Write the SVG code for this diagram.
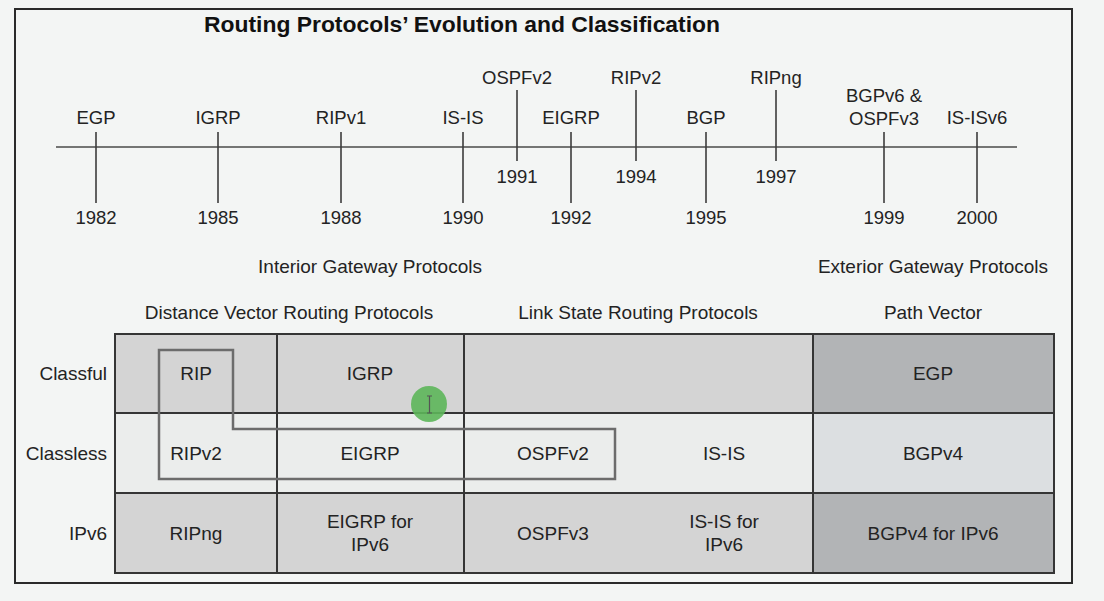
<svg xmlns="http://www.w3.org/2000/svg" width="1104" height="601" viewBox="0 0 1104 601">
  <style>
    text { font-family: "Liberation Sans", Arial, Helvetica, sans-serif; fill: #232323; }
    .title { font-size: 22px; font-weight: bold; fill: #111; }
    .tl { font-size: 18.5px; text-anchor: middle; }
    .hdr { font-size: 19px; text-anchor: middle; }
    .row { font-size: 19px; text-anchor: end; }
    .cell { font-size: 19px; text-anchor: middle; }
    .tick { stroke: #3c3c3c; stroke-width: 1.6; fill: none; }
    .axis { stroke: #4a4a4a; stroke-width: 1.6; fill: none; }
    .grid { stroke: #353535; stroke-width: 2; fill: none; }
    .c-mid { fill: #d4d4d4; }
    .c-light { fill: #ebedec; }
    .c-dark { fill: #b2b4b6; }
    .c-blue { fill: #dcdfe1; }
  </style>
  <rect x="0" y="0" width="1104" height="601" fill="#f3f5f4"/>
  <rect id="frame" x="15" y="9" width="1057" height="574" fill="#f3f5f4" stroke="#2a2a2a" stroke-width="2"/>

  <g id="title">
    <text class="title" x="204" y="32" textLength="516" lengthAdjust="spacingAndGlyphs">Routing Protocols’ Evolution and Classification</text>
  </g>

  <!-- connectors: timeline axis and tick lines -->
  <g id="connectors">
    <line class="axis" x1="56" y1="147" x2="1017" y2="147"/>
    <line class="tick" x1="96" y1="132" x2="96" y2="203"/>
    <line class="tick" x1="218" y1="132" x2="218" y2="203"/>
    <line class="tick" x1="341" y1="132" x2="341" y2="203"/>
    <line class="tick" x1="463" y1="132" x2="463" y2="203"/>
    <line class="tick" x1="517" y1="90" x2="517" y2="161"/>
    <line class="tick" x1="571" y1="132" x2="571" y2="203"/>
    <line class="tick" x1="636" y1="90" x2="636" y2="161"/>
    <line class="tick" x1="706" y1="132" x2="706" y2="203"/>
    <line class="tick" x1="776" y1="90" x2="776" y2="161"/>
    <line class="tick" x1="884" y1="132" x2="884" y2="203"/>
    <line class="tick" x1="977" y1="132" x2="977" y2="203"/>
  </g>

  <g id="ev-egp"><text class="tl" x="96" y="124">EGP</text><text class="tl" x="96" y="224">1982</text></g>
  <g id="ev-igrp"><text class="tl" x="218" y="124">IGRP</text><text class="tl" x="218" y="224">1985</text></g>
  <g id="ev-ripv1"><text class="tl" x="341" y="124">RIPv1</text><text class="tl" x="341" y="224">1988</text></g>
  <g id="ev-isis"><text class="tl" x="463" y="124">IS-IS</text><text class="tl" x="463" y="224">1990</text></g>
  <g id="ev-ospfv2"><text class="tl" x="517" y="84">OSPFv2</text><text class="tl" x="517" y="183">1991</text></g>
  <g id="ev-eigrp"><text class="tl" x="571" y="124">EIGRP</text><text class="tl" x="571" y="224">1992</text></g>
  <g id="ev-ripv2"><text class="tl" x="636" y="84">RIPv2</text><text class="tl" x="636" y="183">1994</text></g>
  <g id="ev-bgp"><text class="tl" x="706" y="124">BGP</text><text class="tl" x="706" y="224">1995</text></g>
  <g id="ev-ripng"><text class="tl" x="776" y="84">RIPng</text><text class="tl" x="776" y="183">1997</text></g>
  <g id="ev-bgpv6"><text class="tl" x="884" y="102">BGPv6 &amp;</text><text class="tl" x="884" y="125">OSPFv3</text><text class="tl" x="884" y="224">1999</text></g>
  <g id="ev-isisv6"><text class="tl" x="977" y="124">IS-ISv6</text><text class="tl" x="977" y="224">2000</text></g>

  <g id="headers">
    <text class="hdr" x="370" y="273">Interior Gateway Protocols</text>
    <text class="hdr" x="933" y="273">Exterior Gateway Protocols</text>
    <text class="hdr" x="289" y="319">Distance Vector Routing Protocols</text>
    <text class="hdr" x="638" y="319">Link State Routing Protocols</text>
    <text class="hdr" x="933" y="319">Path Vector</text>
  </g>

  <g id="row-labels">
    <text class="row" x="107" y="380">Classful</text>
    <text class="row" x="107" y="460">Classless</text>
    <text class="row" x="107" y="540">IPv6</text>
  </g>

  <!-- table cells -->
  <g id="cell-rip"><rect class="c-mid" x="115" y="334" width="162" height="79"/><text class="cell" x="196" y="380">RIP</text></g>
  <g id="cell-igrp"><rect class="c-mid" x="277" y="334" width="187" height="79"/><text class="cell" x="370" y="380">IGRP</text></g>
  <g id="cell-ls-classful"><rect class="c-mid" x="464" y="334" width="349" height="79"/></g>
  <g id="cell-egp"><rect class="c-dark" x="813" y="334" width="241" height="79"/><text class="cell" x="933" y="380">EGP</text></g>

  <g id="cell-ripv2"><rect class="c-light" x="115" y="413" width="162" height="80"/><text class="cell" x="196" y="460">RIPv2</text></g>
  <g id="cell-eigrp"><rect class="c-light" x="277" y="413" width="187" height="80"/><text class="cell" x="370" y="460">EIGRP</text></g>
  <g id="cell-ls-classless"><rect class="c-light" x="464" y="413" width="349" height="80"/><text class="cell" x="553" y="460">OSPFv2</text><text class="cell" x="724" y="460">IS-IS</text></g>
  <g id="cell-bgpv4"><rect class="c-blue" x="813" y="413" width="241" height="80"/><text class="cell" x="933" y="460">BGPv4</text></g>

  <g id="cell-ripng"><rect class="c-mid" x="115" y="493" width="162" height="80"/><text class="cell" x="196" y="540">RIPng</text></g>
  <g id="cell-eigrp6"><rect class="c-mid" x="277" y="493" width="187" height="80"/><text class="cell" x="370" y="528">EIGRP for</text><text class="cell" x="370" y="551">IPv6</text></g>
  <g id="cell-ls-ipv6"><rect class="c-mid" x="464" y="493" width="349" height="80"/><text class="cell" x="553" y="540">OSPFv3</text><text class="cell" x="724" y="528">IS-IS for</text><text class="cell" x="724" y="551">IPv6</text></g>
  <g id="cell-bgp6"><rect class="c-dark" x="813" y="493" width="241" height="80"/><text class="cell" x="933" y="540">BGPv4 for IPv6</text></g>

  <g id="grid">
    <rect class="grid" x="115" y="334" width="939" height="239"/>
    <line class="grid" x1="115" y1="413" x2="1054" y2="413"/>
    <line class="grid" x1="115" y1="493" x2="1054" y2="493"/>
    <line class="grid" x1="277" y1="334" x2="277" y2="573"/>
    <line class="grid" x1="464" y1="334" x2="464" y2="573"/>
    <line class="grid" x1="813" y1="334" x2="813" y2="573"/>
  </g>

  <g id="rip-outline">
    <path d="M159,350 H233 V429 H615 V479 H159 Z" fill="none" stroke="#6c6c6c" stroke-width="2.5"/>
  </g>

  <g id="cursor">
    <circle cx="429" cy="404" r="18" fill="#5db65a" fill-opacity="0.9"/>
    <path d="M427,396 H432 M429.5,396 V413 M427,413 H432" stroke="#555" stroke-width="1.2" fill="none"/>
  </g>
</svg>
